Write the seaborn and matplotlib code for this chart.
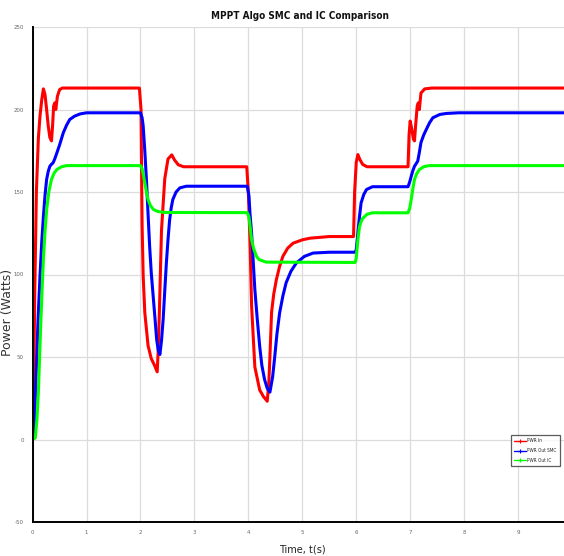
import numpy as np
import pandas as pd
import matplotlib
matplotlib.use("Agg")
import matplotlib.pyplot as plt
import seaborn as sns

# --- PWR In (solar panel input power) ---
t_in = [0, 0.02, 0.04, 0.07, 0.106, 0.137, 0.17, 0.2, 0.23, 0.26, 0.29, 0.32, 0.35,
        0.37, 0.39, 0.41, 0.43, 0.46, 0.5, 0.55, 0.6, 1.0, 1.98,
        2.01, 2.03, 2.05, 2.08, 2.14, 2.2, 2.26, 2.31, 2.33, 2.35, 2.39, 2.45, 2.51,
        2.58, 2.63, 2.7, 2.8, 3.97,
        4.0, 4.03, 4.06, 4.12, 4.21, 4.28, 4.35, 4.38, 4.4, 4.43, 4.47, 4.52, 4.58,
        4.64, 4.73, 4.83, 5.0, 5.14, 5.5, 5.95,
        5.97, 6.0, 6.03, 6.07, 6.12, 6.2, 6.96,
        6.98, 7.0, 7.03, 7.06, 7.08, 7.1, 7.13, 7.15, 7.17, 7.2, 7.27, 7.4, 10.0]
p_in = [0, 30, 89, 150, 182, 196, 206, 212.5, 209, 200, 190, 183, 181,
        190, 202, 204, 200, 208, 212, 213, 213, 213, 213,
        200, 130, 99, 77, 57, 49, 45, 41, 55, 77, 127, 158, 170,
        172.5, 169.5, 166.5, 165.3, 165.3,
        150, 121, 81, 44, 30, 26, 23.2, 35, 50.5, 77, 88, 97, 105,
        111, 116, 119, 121, 122, 123, 123,
        150, 168, 172.7, 169.5, 166.7, 165.3, 165.3,
        185, 193, 188, 182, 181, 190, 202, 204, 200, 210, 212.5, 213, 213]

# --- PWR Out SMC ---
t_smc = [0, 0.03, 0.05, 0.075, 0.1, 0.137, 0.17, 0.2, 0.23, 0.26, 0.29, 0.32, 0.35,
         0.38, 0.41, 0.45, 0.5, 0.57, 0.63, 0.69, 0.78, 0.88, 1.0, 2.0,
         2.03, 2.05, 2.08, 2.11, 2.14, 2.17, 2.2, 2.235, 2.27, 2.3, 2.33, 2.36, 2.39,
         2.42, 2.45, 2.48, 2.51, 2.54, 2.57, 2.6, 2.66, 2.73, 2.85, 3.98,
         4.01, 4.03, 4.06, 4.09, 4.12, 4.165, 4.21, 4.25, 4.3, 4.35, 4.4, 4.45, 4.49,
         4.53, 4.58, 4.64, 4.7, 4.79, 4.89, 5.04, 5.2, 5.5, 5.98,
         6.0, 6.03, 6.06, 6.09, 6.14, 6.19, 6.3, 6.96,
         6.99, 7.02, 7.05, 7.08, 7.14, 7.17, 7.2, 7.25, 7.3, 7.36, 7.42, 7.55, 7.67,
         7.9, 10.0]
p_smc = [0, 5, 25, 48.5, 72, 99, 120, 135, 148, 157.6, 162.5, 165.6, 166.8,
         167.7, 170, 173.7, 178.5, 186, 190.5, 194, 196, 197.3, 198, 198,
         195, 190, 175, 157.6, 137, 117, 101, 87, 73, 60.6, 54, 51.5, 60,
         72.7, 90, 107, 121, 133, 140.5, 145.5, 150, 152.5, 153.5, 153.5,
         148, 137, 125, 108, 91, 73, 56.5, 45, 36.4, 31, 28.7, 38, 50.5,
         64, 76.8, 87, 95, 102, 107, 111, 113, 113.5, 113.5,
         115, 125, 135, 143.4, 148.5, 151.5, 153.2, 153.2,
         156, 159.6, 163, 165.6, 168.7, 174, 180, 184.5, 188, 192, 195, 197, 197.6,
         198, 198]

# --- PWR Out IC ---
t_ic = [0, 0.05, 0.08, 0.106, 0.13, 0.15, 0.175, 0.2, 0.23, 0.26, 0.3, 0.35, 0.4,
        0.45, 0.53, 0.63, 2.0,
        2.03, 2.05, 2.08, 2.11, 2.14, 2.18, 2.24, 2.32, 2.45, 3.98,
        4.01, 4.04, 4.06, 4.1, 4.15, 4.2, 4.33, 5.98,
        6.0, 6.03, 6.06, 6.09, 6.12, 6.2, 6.3, 6.96,
        6.99, 7.02, 7.05, 7.08, 7.12, 7.17, 7.25, 7.35, 10.0]
p_ic = [0, 1, 12, 28, 50, 68.7, 90, 109, 126, 139, 150, 157.6, 161.5,
        163.6, 165.2, 166, 166,
        164, 161, 155.6, 150, 145.5, 142, 139.4, 138.2, 137.6, 137.5,
        135, 127, 121, 115.5, 111, 109, 107.5, 107.3,
        110, 121, 129, 132, 134, 136.5, 137.4, 137.4,
        140, 145.5, 152, 157.6, 161, 163.6, 165.3, 166, 166]

series_names = ["PWR In", "PWR Out SMC", "PWR Out IC"]
series_colors = ["#ff0000", "#0000ff", "#00ff00"]

x_ticks = list(range(0, 10))
y_ticks = [-50, 0, 50, 100, 150, 200, 250]

df = pd.concat([
    pd.DataFrame({"t": t_in, "P": p_in, "series": series_names[0]}),
    pd.DataFrame({"t": t_smc, "P": p_smc, "series": series_names[1]}),
    pd.DataFrame({"t": t_ic, "P": p_ic, "series": series_names[2]}),
], ignore_index=True)

sns.set_style("white")
narrow = ["DejaVu Sans Condensed", "Liberation Sans Narrow", "DejaVu Sans"]
plt.rcParams["font.family"] = narrow
plt.rcParams["font.stretch"] = "condensed"

W, H = 564, 556
fig = plt.figure(figsize=(W / 100, H / 100), dpi=100)
ax = fig.add_axes([32.6 / W, 1 - 522 / H, (572 - 32.6) / W, (522 - 27) / H])

sns.lineplot(data=df, x="t", y="P", hue="series", hue_order=series_names,
             palette=series_colors, sort=False, estimator=None, linewidth=2.2,
             ax=ax, legend=False)

ax.set_xlim(0, 10)
ax.set_ylim(-50, 250)
ax.set_xticks(x_ticks + [10])
ax.set_yticks(y_ticks)
ax.set_xticklabels([str(v) for v in x_ticks] + [""])
ax.set_yticklabels([str(v) for v in y_ticks])
ax.grid(True, color="#dcdcdc", linewidth=0.9)
ax.set_axisbelow(True)
ax.set_xlabel("")
ax.set_ylabel("")
for side in ["top", "right"]:
    ax.spines[side].set_visible(False)
for side in ["left", "bottom"]:
    ax.spines[side].set_color("black")
    ax.spines[side].set_linewidth(1.4)
ax.tick_params(direction="in", length=3, width=1, colors="black",
               labelsize=4.3, labelcolor="#666666")
ax.tick_params(axis="y", pad=6.2)
ax.tick_params(axis="x", pad=5.5)

# legend drawn from the plotted line styles
handles = [plt.Line2D([], [], color=c, lw=1.0, marker="+", markersize=3,
                      markeredgewidth=0.8) for c in series_colors]
leg = fig.legend(handles, series_names, loc="upper left",
                 bbox_to_anchor=(509 / W, 1 - 433 / H), fontsize=3.4,
                 frameon=True, fancybox=False, handlelength=2.4,
                 borderpad=0.6, labelspacing=1.05, handletextpad=0.4)
leg.get_frame().set_edgecolor("#333333")
leg.get_frame().set_linewidth(0.9)

fig.text(300 / W, 1 - 16 / H, "MPPT Algo SMC and IC Comparison", ha="center",
         va="center", fontsize=7.2, fontweight="bold", color="#111111")
fig.text(8 / W, 1 - 312 / H, "Power (Watts)", ha="center", va="center",
         rotation=90, fontsize=9, color="#333333", fontstretch="normal",
         family=["DejaVu Sans"])
fig.text(302 / W, 1 - 549 / H, "Time, t(s)", ha="center", va="center",
         fontsize=7.8, color="#222222")

fig.savefig("out.png", dpi=100)
